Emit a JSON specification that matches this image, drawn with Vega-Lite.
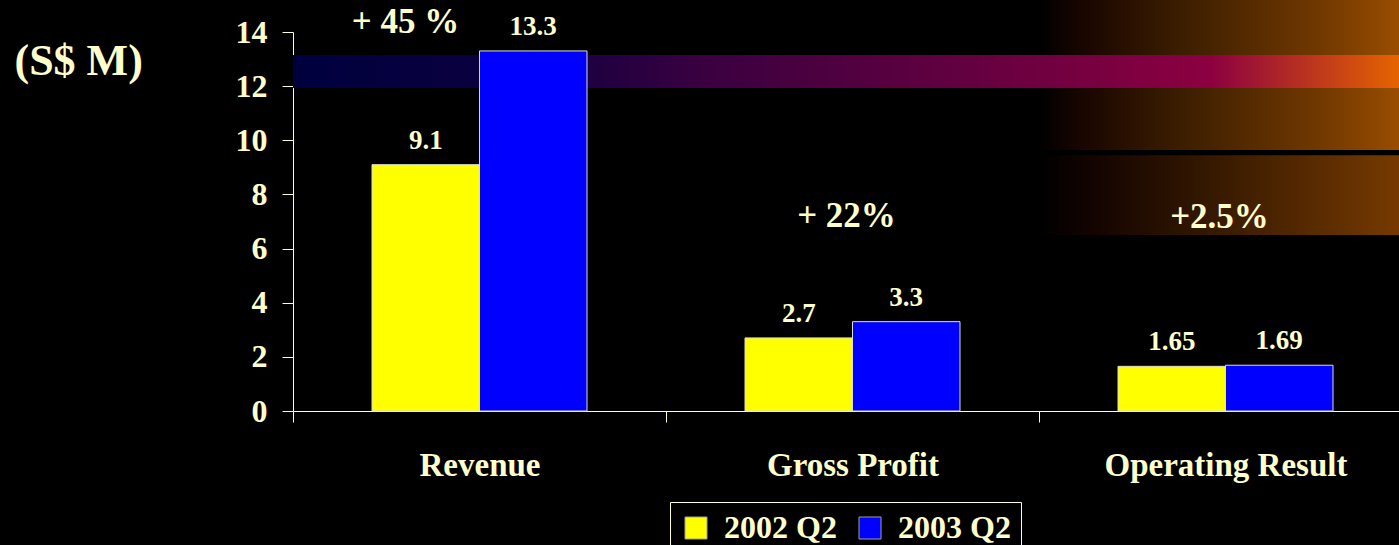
{
  "$schema": "https://vega.github.io/schema/vega-lite/v6.json",
  "width": 1106,
  "height": 379,
  "autosize": {"type": "none"},
  "padding": {"left": 293, "top": 32, "right": 0, "bottom": 134},
  "background": "#000000",
  "config": {"view": {"stroke": null}, "font": "Liberation Serif"},
  "datasets": {
    "bars": [
      {"category": "Revenue", "year": "2002 Q2", "value": 9.1},
      {"category": "Revenue", "year": "2003 Q2", "value": 13.3},
      {"category": "Gross Profit", "year": "2002 Q2", "value": 2.7},
      {"category": "Gross Profit", "year": "2003 Q2", "value": 3.3},
      {"category": "Operating Result", "year": "2002 Q2", "value": 1.65},
      {"category": "Operating Result", "year": "2003 Q2", "value": 1.69}
    ],
    "notes": [
      {"category": "Revenue", "note": "+ 45 %", "level": 13.96},
      {"category": "Gross Profit", "note": "+ 22%", "level": 6.8},
      {"category": "Operating Result", "note": "+2.5%", "level": 6.76}
    ]
  },
  "layer": [
    {
      "data": {"values": [{}]},
      "mark": {"type": "bar", "fill": {"gradient": "linear", "x1": 0, "y1": 0, "x2": 1, "y2": 0, "stops": [{"offset": 0, "color": "#000000"}, {"offset": 0.12, "color": "#1a0600"}, {"offset": 0.4, "color": "#3e1f00"}, {"offset": 0.75, "color": "#703800"}, {"offset": 1, "color": "#a05000"}]}},
      "encoding": {
        "x": {"datum": "Operating Result", "type": "nominal"},
        "y": {"datum": 15.5, "type": "quantitative"},
        "y2": {"datum": 9.64}
      }
    },
    {
      "data": {"values": [{}]},
      "mark": {"type": "bar", "fill": {"gradient": "linear", "x1": 0, "y1": 0, "x2": 1, "y2": 0, "stops": [{"offset": 0, "color": "#000000"}, {"offset": 0.15, "color": "#140400"}, {"offset": 0.45, "color": "#341800"}, {"offset": 1, "color": "#7a3c00"}]}},
      "encoding": {
        "x": {"datum": "Operating Result", "type": "nominal"},
        "y": {"datum": 9.45, "type": "quantitative"},
        "y2": {"datum": 6.5}
      }
    },
    {
      "data": {"values": [{}]},
      "mark": {"type": "rect", "fill": {"gradient": "linear", "x1": 0, "y1": 0, "x2": 1, "y2": 0, "stops": [{"offset": 0, "color": "#00003e"}, {"offset": 0.2, "color": "#0c0040"}, {"offset": 0.37, "color": "#3a0040"}, {"offset": 0.6, "color": "#620040"}, {"offset": 0.83, "color": "#8c0040"}, {"offset": 1, "color": "#e56400"}]}},
      "encoding": {
        "y": {"datum": 13.15, "type": "quantitative"},
        "y2": {"datum": 11.93}
      }
    },
    {
      "data": {"name": "bars"},
      "mark": {"type": "bar", "stroke": "#DDDDCC", "strokeWidth": 1},
      "encoding": {
        "x": {
          "field": "category", "type": "nominal",
          "scale": {"domain": ["Revenue", "Gross Profit", "Operating Result"], "range": [0, 1119], "paddingInner": 0, "paddingOuter": 0},
          "axis": {"title": null, "labelAngle": 0, "labelAlign": "center", "labelBaseline": "top", "labelLimit": 500, "labelFontSize": 33, "labelFontWeight": "bold", "labelColor": "#FFFFCC", "labelFont": "Liberation Serif", "tickBand": "extent", "tickSize": 11, "tickColor": "#FFFFCC", "domainColor": "#FFFFCC", "labelPadding": 27, "grid": false}
        },
        "xOffset": {"field": "year", "type": "nominal", "scale": {"paddingInner": 0, "paddingOuter": 0.735}},
        "y": {
          "field": "value", "type": "quantitative",
          "scale": {"domain": [0, 14], "nice": false},
          "axis": {"title": "(S$ M)", "titleAngle": 0, "titleAlign": "left", "titleBaseline": "alphabetic", "titleX": -279, "titleY": 42, "titleFontSize": 44, "titleFontWeight": "bold", "titleColor": "#FFFFCC", "titleFont": "Liberation Serif", "values": [0, 2, 4, 6, 8, 10, 12, 14], "labelFontSize": 32, "labelFontWeight": "bold", "labelColor": "#FFFFCC", "labelFont": "Liberation Serif", "tickSize": 11, "labelPadding": 15, "grid": false, "domainColor": "#FFFFCC", "tickColor": "#FFFFCC"}
        },
        "color": {
          "field": "year", "type": "nominal",
          "scale": {"domain": ["2002 Q2", "2003 Q2"], "range": ["#FFFF00", "#0000FF"]},
          "legend": {"title": null, "orient": "none", "legendX": 377, "legendY": 470, "direction": "horizontal", "symbolType": "square", "symbolSize": 484, "symbolStrokeColor": "#A0A0A0", "symbolStrokeWidth": 1, "symbolOpacity": 1, "labelFontSize": 32, "labelFontWeight": "bold", "labelColor": "#FFFFCC", "labelFont": "Liberation Serif", "labelOffset": 12, "columnPadding": 17, "padding": 10, "strokeColor": "#FFFFCC", "fillColor": "#000000"}
        }
      }
    },
    {
      "data": {"name": "bars"},
      "mark": {"type": "text", "baseline": "alphabetic", "align": "center", "dy": -16, "fontSize": 27, "fontWeight": "bold", "font": "Liberation Serif", "color": "#FFFFCC"},
      "encoding": {
        "x": {"field": "category", "type": "nominal"},
        "xOffset": {"field": "year", "type": "nominal"},
        "y": {"field": "value", "type": "quantitative"},
        "text": {"field": "value", "type": "quantitative"}
      }
    },
    {
      "data": {"name": "notes"},
      "transform": [{"filter": "datum.category === 'Revenue'"}],
      "mark": {"type": "text", "baseline": "alphabetic", "align": "center", "dx": -74, "fontSize": 35, "fontWeight": "bold", "font": "Liberation Serif", "color": "#FFFFCC"},
      "encoding": {
        "x": {"field": "category", "type": "nominal"},
        "y": {"field": "level", "type": "quantitative"},
        "text": {"field": "note", "type": "nominal"}
      }
    },
    {
      "data": {"name": "notes"},
      "transform": [{"filter": "datum.category !== 'Revenue'"}],
      "mark": {"type": "text", "baseline": "alphabetic", "align": "center", "dx": -6, "fontSize": 35, "fontWeight": "bold", "font": "Liberation Serif", "color": "#FFFFCC"},
      "encoding": {
        "x": {"field": "category", "type": "nominal"},
        "y": {"field": "level", "type": "quantitative"},
        "text": {"field": "note", "type": "nominal"}
      }
    }
  ]
}
